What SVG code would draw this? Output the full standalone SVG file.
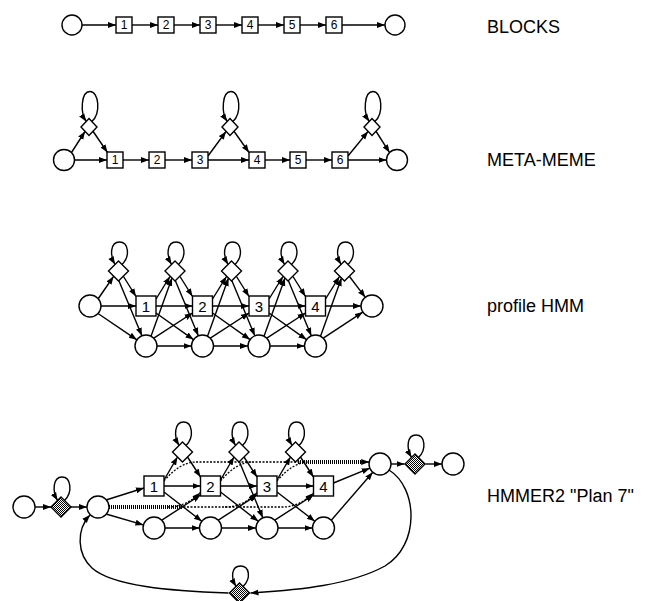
<svg xmlns="http://www.w3.org/2000/svg" width="648" height="601" viewBox="0 0 648 601">
<style>
.n{fill:#fff;stroke:#000;stroke-width:1.4}
.sh{fill:url(#shade);stroke:#000;stroke-width:1.4}
.e{fill:none;stroke:#000;stroke-width:1.4;marker-end:url(#ah)}
.dot{fill:none;stroke:#000;stroke-width:1.3;stroke-dasharray:2 1.5}
.dota{fill:none;stroke:#000;stroke-width:1.3;stroke-dasharray:2 1.5;marker-end:url(#ah)}
.hatch{fill:none;stroke:#000;stroke-width:4;stroke-dasharray:1 1}
.s{font-family:"Liberation Sans",Arial,sans-serif;font-size:12px;text-anchor:middle}
.b{font-family:"Liberation Sans",Arial,sans-serif;font-size:15px;text-anchor:middle}
.lab{font-family:"Liberation Sans",Arial,sans-serif;font-size:18px}
</style>
<defs>
<marker id="ah" markerUnits="userSpaceOnUse" markerWidth="9" markerHeight="7" refX="8" refY="3.25" orient="auto"><path d="M0,0.25 L8,3.25 L0,6.25 z" fill="#000"/></marker>
<pattern id="shade" width="2" height="2" patternUnits="userSpaceOnUse"><rect width="2" height="2" fill="#fff"/><rect width="1" height="1" fill="#000"/><rect x="1" y="1" width="1" height="1" fill="#000"/></pattern>
</defs>
<rect width="648" height="601" fill="#fff"/>

<g id="connectors">
<!-- BLOCKS -->
<path class="e" d="M82,25 L116,25"/>
<path class="e" d="M132,25 L158,25"/>
<path class="e" d="M174,25 L200,25"/>
<path class="e" d="M216,25 L242,25"/>
<path class="e" d="M258,25 L284,25"/>
<path class="e" d="M300,25 L326,25"/>
<path class="e" d="M342,25 L385,25"/>
<!-- META-MEME -->
<path class="e" d="M71.5,152.5 L85,131.5"/>
<path class="e" d="M93,131.25 L107.5,152.5"/>
<path class="e" d="M74.5,160 L107,160"/>
<path class="e" d="M123,160 L149,160"/>
<path class="e" d="M165,160 L192,160"/>
<path class="e" d="M208,156 L226,131.5"/>
<path class="e" d="M234,131.25 L249,152.5"/>
<path class="e" d="M208,160 L249,160"/>
<path class="e" d="M265,160 L290,160"/>
<path class="e" d="M306,160 L332,160"/>
<path class="e" d="M348,156 L368,131.5"/>
<path class="e" d="M376,131.25 L389.6,152.6"/>
<path class="e" d="M348,160 L386.5,160"/>
<path class="e" d="M91.8,121.5 C101,113.5 99,91.5 90,91.5 C81,91.5 80,112.5 86.2,121.5"/>
<path class="e" d="M232.8,121.5 C242,113.5 240,91.5 231,91.5 C222,91.5 221,112.5 227.2,121.5"/>
<path class="e" d="M374.8,121.5 C384,113.5 382,91.5 373,91.5 C364,91.5 363,112.5 369.2,121.5"/>
<!-- profile HMM -->
<path class="e" d="M98,299 L113.5,276.5"/>
<path class="e" d="M101,306 L136,306"/>
<path class="e" d="M98,313.5 L136.9,339.8"/>
<path class="e" d="M123.5,276.5 L136,296.5"/>
<path class="e" d="M119,281 L141.9,335.8"/>
<path class="e" d="M156,299 L170,276.5"/>
<path class="e" d="M156,306 L192.5,306"/>
<path class="e" d="M156,313 L193.5,339.6"/>
<path class="e" d="M180,276.5 L192.5,296.5"/>
<path class="e" d="M175.5,281 L198.3,335.8"/>
<path class="e" d="M151,336.2 L172,278"/>
<path class="e" d="M153.8,338.2 L192.5,313"/>
<path class="e" d="M157,346 L191.5,346"/>
<path class="e" d="M212.5,299 L226.5,276.5"/>
<path class="e" d="M212.5,306 L249,306"/>
<path class="e" d="M212.5,313 L250,339.6"/>
<path class="e" d="M236.5,276.5 L249,296.5"/>
<path class="e" d="M232,281 L254.8,335.8"/>
<path class="e" d="M207.5,336.2 L228.5,278"/>
<path class="e" d="M210.3,338.2 L249,313"/>
<path class="e" d="M213.5,346 L248,346"/>
<path class="e" d="M269,299 L283,276.5"/>
<path class="e" d="M269,306 L305.5,306"/>
<path class="e" d="M269,313 L306.5,339.6"/>
<path class="e" d="M293,276.5 L305.5,296.5"/>
<path class="e" d="M288.5,281 L311.3,335.8"/>
<path class="e" d="M264,336.2 L285,278"/>
<path class="e" d="M266.8,338.2 L305.5,313"/>
<path class="e" d="M270,346 L304.5,346"/>
<path class="e" d="M325.5,299 L339.5,276.5"/>
<path class="e" d="M325.5,306 L361,306"/>
<path class="e" d="M349.5,276.5 L365.3,297.3"/>
<path class="e" d="M320.5,336.2 L341.5,278"/>
<path class="e" d="M323.3,338.2 L362.8,312.1"/>
<path class="e" d="M122,264.5 C130.5,256 128.5,242 119.5,242 C110.5,242 109.5,255 115,264.5"/>
<path class="e" d="M178.5,264.5 C187,256 185,242 176,242 C167,242 166,255 171.5,264.5"/>
<path class="e" d="M235,264.5 C243.5,256 241.5,242 232.5,242 C223.5,242 222.5,255 228,264.5"/>
<path class="e" d="M291.5,264.5 C300,256 298,242 289,242 C280,242 279,255 284.5,264.5"/>
<path class="e" d="M348,264.5 C356.5,256 354.5,242 345.5,242 C336.5,242 335.5,255 341,264.5"/>
<!-- HMMER2 Plan 7 -->
<path class="e" d="M35,507 L51,507"/>
<path class="e" d="M71,507 L87,507"/>
<path class="e" d="M64.5,500.5 C73,492 71,477 62,477 C53,477 52,491 57.5,500.5"/>
<path class="e" d="M106,500 L144,488"/>
<path class="e" d="M106,514 L143.4,524.9"/>
<path class="hatch" d="M109,507 L182,507"/>
<path class="dota" d="M180,507 L283,507 Q299,507 313.5,493"/>
<path class="dota" d="M168,507 Q186,507 200.5,492.5"/>
<path class="dota" d="M225,507 Q243,507 257,492.5"/>
<path class="e" d="M164,480 L177.5,457"/>
<path class="e" d="M164,486 L200.5,486"/>
<path class="e" d="M164,492 L201.8,521.3"/>
<path class="e" d="M187.5,457 L200.5,477"/>
<path class="e" d="M161.8,520.2 L200.5,495"/>
<path class="e" d="M165,528 L199.5,528"/>
<path class="e" d="M220.5,480 L234,457"/>
<path class="e" d="M220.5,486 L257,486"/>
<path class="e" d="M220.5,492 L258.3,521.3"/>
<path class="e" d="M244,457 L257,477"/>
<path class="e" d="M218.3,520.2 L257,495"/>
<path class="e" d="M221.5,528 L256,528"/>
<path class="e" d="M239.5,462 L262.8,517.8"/>
<path class="e" d="M277,480 L290.5,457"/>
<path class="e" d="M277,486 L313.5,486"/>
<path class="e" d="M277,492 L314.8,521.3"/>
<path class="e" d="M300.5,457 L313.5,477"/>
<path class="e" d="M274.8,520.2 L313.5,495"/>
<path class="e" d="M278,528 L312.5,528"/>
<path class="e" d="M333.5,483 L369.8,468.2"/>
<path class="e" d="M331.3,520.2 L372.8,472.3"/>
<path class="dot" d="M164,481 Q180,462 196,462"/>
<path class="dot" d="M220.5,481 Q236.5,462 252.5,462"/>
<path class="dot" d="M277,481 Q293,462 309,462"/>
<path class="dot" d="M196,462 L300,462"/>
<path class="hatch" d="M298,462 L363,462"/>
<path class="e" d="M360,462 L369.2,462"/>
<path class="e" d="M186,445.5 C194.5,437 192.5,422 183.5,422 C174.5,422 173.5,436 179,445.5"/>
<path class="e" d="M242.5,445.5 C251,437 249,422 240,422 C231,422 230,436 235.5,445.5"/>
<path class="e" d="M299,445.5 C307.5,437 305.5,422 296.5,422 C287.5,422 286.5,436 292,445.5"/>
<path class="e" d="M391,464 L404.5,464"/>
<path class="e" d="M425.5,464 L442,464"/>
<path class="e" d="M418.5,457.5 C427,449 425,435 416,435 C407,435 406,448 411.5,457.5"/>
<path class="e" d="M389,470 C418,488 420,545 385,566 C350,585 300,590 250.5,593"/>
<path class="e" d="M228.5,593 C170,591 112,586 92,568 C77,554 76,530 90,515"/>
<path class="e" d="M243,586.5 C251.5,578 249.5,566 240.5,566 C231.5,566 230.5,577 236,586.5"/>
</g>

<!-- BLOCKS nodes -->
<g id="blocks-begin"><circle class="n" cx="72" cy="25" r="10"/></g>
<g id="blocks-1"><rect class="n" x="116" y="17" width="16" height="16"/><text class="s" x="124" y="29.3">1</text></g>
<g id="blocks-2"><rect class="n" x="158" y="17" width="16" height="16"/><text class="s" x="166" y="29.3">2</text></g>
<g id="blocks-3"><rect class="n" x="200" y="17" width="16" height="16"/><text class="s" x="208" y="29.3">3</text></g>
<g id="blocks-4"><rect class="n" x="242" y="17" width="16" height="16"/><text class="s" x="250" y="29.3">4</text></g>
<g id="blocks-5"><rect class="n" x="284" y="17" width="16" height="16"/><text class="s" x="292" y="29.3">5</text></g>
<g id="blocks-6"><rect class="n" x="326" y="17" width="16" height="16"/><text class="s" x="334" y="29.3">6</text></g>
<g id="blocks-end"><circle class="n" cx="395" cy="25" r="10"/></g>
<g id="label-blocks"><text class="lab" x="487" y="33">BLOCKS</text></g>

<!-- META-MEME nodes -->
<g id="mm-begin"><circle class="n" cx="64" cy="160" r="10.5"/></g>
<g id="mm-ins-a"><polygon class="n" points="89,118.5 97,127 89,135.5 81,127"/></g>
<g id="mm-1"><rect class="n" x="107" y="152" width="16" height="16"/><text class="s" x="115" y="164.3">1</text></g>
<g id="mm-2"><rect class="n" x="149" y="152" width="16" height="16"/><text class="s" x="157" y="164.3">2</text></g>
<g id="mm-3"><rect class="n" x="192" y="152" width="16" height="16"/><text class="s" x="200" y="164.3">3</text></g>
<g id="mm-ins-b"><polygon class="n" points="230,118.5 238,127 230,135.5 222,127"/></g>
<g id="mm-4"><rect class="n" x="249" y="152" width="16" height="16"/><text class="s" x="257" y="164.3">4</text></g>
<g id="mm-5"><rect class="n" x="290" y="152" width="16" height="16"/><text class="s" x="298" y="164.3">5</text></g>
<g id="mm-6"><rect class="n" x="332" y="152" width="16" height="16"/><text class="s" x="340" y="164.3">6</text></g>
<g id="mm-ins-c"><polygon class="n" points="372,118.5 380,127 372,135.5 364,127"/></g>
<g id="mm-end"><circle class="n" cx="397" cy="160" r="10.5"/></g>
<g id="label-metameme"><text class="lab" x="487" y="166">META-MEME</text></g>

<!-- profile HMM nodes -->
<g id="ph-begin"><circle class="n" cx="90" cy="306" r="11"/></g>
<g id="ph-i0"><polygon class="n" points="118.5,261 128.5,271 118.5,281 108.5,271"/></g>
<g id="ph-m1"><rect class="n" x="136" y="296" width="20" height="20"/><text class="b" x="146" y="311.5">1</text></g>
<g id="ph-i1"><polygon class="n" points="175,261 185,271 175,281 165,271"/></g>
<g id="ph-d1"><circle class="n" cx="146" cy="346" r="11"/></g>
<g id="ph-m2"><rect class="n" x="192.5" y="296" width="20" height="20"/><text class="b" x="202.5" y="311.5">2</text></g>
<g id="ph-i2"><polygon class="n" points="231.5,261 241.5,271 231.5,281 221.5,271"/></g>
<g id="ph-d2"><circle class="n" cx="202.5" cy="346" r="11"/></g>
<g id="ph-m3"><rect class="n" x="249" y="296" width="20" height="20"/><text class="b" x="259" y="311.5">3</text></g>
<g id="ph-i3"><polygon class="n" points="288,261 298,271 288,281 278,271"/></g>
<g id="ph-d3"><circle class="n" cx="259" cy="346" r="11"/></g>
<g id="ph-m4"><rect class="n" x="305.5" y="296" width="20" height="20"/><text class="b" x="315.5" y="311.5">4</text></g>
<g id="ph-i4"><polygon class="n" points="344.5,261 354.5,271 344.5,281 334.5,271"/></g>
<g id="ph-d4"><circle class="n" cx="315.5" cy="346" r="11"/></g>
<g id="ph-end"><circle class="n" cx="372" cy="306" r="11"/></g>
<g id="label-profile"><text class="lab" x="487" y="312">profile HMM</text></g>

<!-- HMMER2 Plan 7 nodes -->
<g id="p7-s"><circle class="n" cx="24" cy="507" r="11"/></g>
<g id="p7-n"><polygon class="sh" points="61,497 71,507 61,517 51,507"/></g>
<g id="p7-b"><circle class="n" cx="98" cy="507" r="11"/></g>
<g id="p7-m1"><rect class="n" x="144" y="476" width="20" height="20"/><text class="b" x="154" y="491.5">1</text></g>
<g id="p7-i1"><polygon class="n" points="182.5,442 192.5,452 182.5,462 172.5,452"/></g>
<g id="p7-d1"><circle class="n" cx="154" cy="528" r="11"/></g>
<g id="p7-m2"><rect class="n" x="200.5" y="476" width="20" height="20"/><text class="b" x="210.5" y="491.5">2</text></g>
<g id="p7-i2"><polygon class="n" points="239,442 249,452 239,462 229,452"/></g>
<g id="p7-d2"><circle class="n" cx="210.5" cy="528" r="11"/></g>
<g id="p7-m3"><rect class="n" x="257" y="476" width="20" height="20"/><text class="b" x="267" y="491.5">3</text></g>
<g id="p7-i3"><polygon class="n" points="295.5,442 305.5,452 295.5,462 285.5,452"/></g>
<g id="p7-d3"><circle class="n" cx="267" cy="528" r="11"/></g>
<g id="p7-m4"><rect class="n" x="313.5" y="476" width="20" height="20"/><text class="b" x="323.5" y="491.5">4</text></g>
<g id="p7-d4"><circle class="n" cx="323.5" cy="528" r="11"/></g>
<g id="p7-e"><circle class="n" cx="380" cy="464" r="11"/></g>
<g id="p7-c"><polygon class="sh" points="415,454 425,464 415,474 405,464"/></g>
<g id="p7-t"><circle class="n" cx="453" cy="464" r="11"/></g>
<g id="p7-j"><polygon class="sh" points="239.5,583 249.5,593 239.5,603 229.5,593"/></g>
<g id="label-plan7"><text class="lab" x="487" y="502">HMMER2 "Plan 7"</text></g>
</svg>
